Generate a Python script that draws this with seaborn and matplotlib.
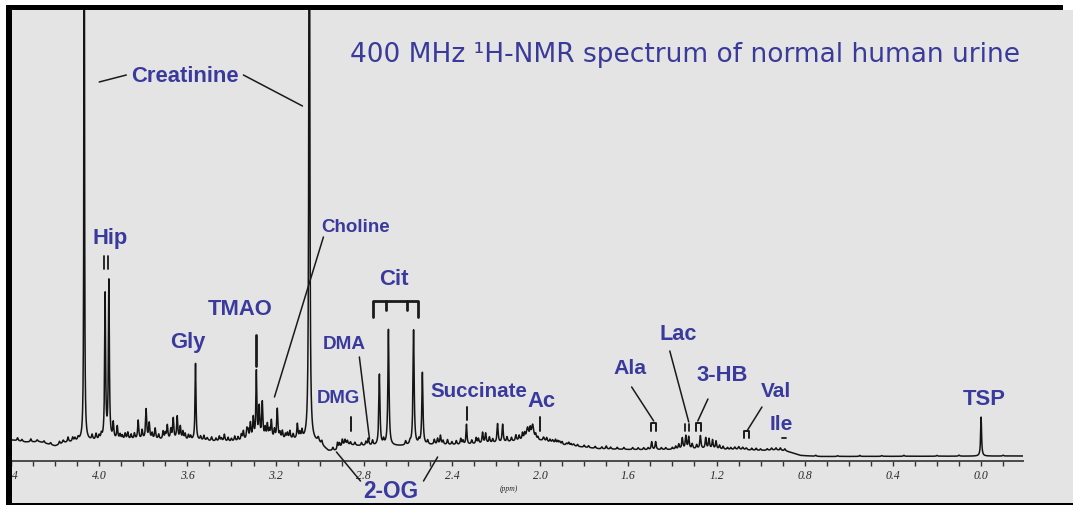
import numpy as np
import pandas as pd
import matplotlib
matplotlib.use("Agg")
import matplotlib.pyplot as plt
from matplotlib.patches import Rectangle
from matplotlib.ticker import FixedLocator, MultipleLocator
import seaborn as sns

# ---------------------------------------------------------------------------
# Spectrum data (chemical shift in ppm, intensity in arbitrary units)
# ---------------------------------------------------------------------------
baseline_ppm = [4.395, 4.336, 4.268, 4.200, 4.154, 4.086, 3.995, 3.859, 3.723,
                3.541, 3.405, 3.269, 3.133, 3.065, 3.006, 2.960, 2.924, 2.883,
                2.815, 2.633, 2.497, 2.361, 2.179, 2.089, 1.998, 1.907, 1.725,
                1.498, 1.271, 1.090, 0.999, 0.931, 0.885, 0.817, 0.726, -0.195]
baseline_int = [20.5, 18.5, 18.5, 14.5, 17.5, 19.5, 19.5, 20.5, 20.5,
                19.5, 18.5, 20.5, 20.5, 19.5, 17.5, 9.5, 9.5, 15.5,
                14.5, 14.5, 15.5, 15.5, 17.5, 19.5, 19.5, 15.5, 11.5,
                10.5, 11.5, 10.5, 10.0, 10.5, 9.5, 5.0, 4.0, 4.5]

# Resolved resonances: centre (ppm), height above baseline (a.u.), half width (ppm)
peak_ppm = [4.281, 4.163, 4.141, 4.095, 4.068, 4.032, 4.014,
            3.973, 3.956, 3.936, 3.918, 3.882, 3.823, 3.787, 3.773, 3.746,
            3.691, 3.664, 3.646, 3.632, 3.610, 3.563, 3.510, 3.432, 3.346,
            3.314, 3.301, 3.287, 3.274, 3.260, 3.237, 3.219, 3.192, 3.169,
            3.146, 3.101, 3.047, 3.006, 2.919, 2.897, 2.874, 2.860, 2.779,
            2.729, 2.688, 2.574, 2.534, 2.465, 2.452, 2.334, 2.261, 2.247,
            2.193, 2.170, 2.057, 2.034, 1.984, 1.943, 1.911, 1.880, 1.848,
            1.494, 1.476, 1.371, 1.355, 1.339, 1.326, 1.273, 1.249, 1.234,
            1.218, 1.202, 1.186, 1.117, 1.099, 1.081, 1.065, 0.000]
peak_int = [2, 3, 5, 3, 750, 5, 6,
            145, 158, 16, 13, 6, 19, 30, 16, 11,
            14, 21, 23, 13, 6, 77, 3, 7, 9,
            16, 21, 67, 31, 36, 14, 18, 30, 8,
            6, 15, 800, 4, 7, 7, 4, 3, 7,
            71, 116, 115, 72, 6, 9, 20, 11, 10,
            19, 18, 12, 15, 4, 3, 3, 2, 2,
            8, 8, 5, 11, 13, 12, 13, 11, 10,
            9, 8, 4, 2.5, 3, 2.5, 2, 39]
peak_hw = [0.004, 0.004, 0.003, 0.003, 0.0015, 0.003, 0.003,
           0.0025, 0.0025, 0.003, 0.003, 0.003, 0.003, 0.003, 0.003, 0.003,
           0.003, 0.003, 0.003, 0.003, 0.003, 0.0025, 0.004, 0.003, 0.003,
           0.003, 0.003, 0.0025, 0.003, 0.003, 0.003, 0.003, 0.003, 0.003,
           0.003, 0.003, 0.0022, 0.004, 0.003, 0.003, 0.003, 0.003, 0.003,
           0.003, 0.003, 0.003, 0.003, 0.003, 0.003, 0.0025, 0.003, 0.003,
           0.003, 0.003, 0.006, 0.006, 0.004, 0.004, 0.004, 0.004, 0.004,
           0.003, 0.003, 0.003, 0.003, 0.003, 0.003, 0.003, 0.003, 0.003,
           0.003, 0.003, 0.003, 0.004, 0.004, 0.004, 0.004, 0.0025]

# Minor signals along the baseline: centre (ppm), height (a.u.)
minor_ppm = [4.370, 4.350, 4.310, 4.250, 4.220, 4.180, 4.120, 4.110,
             4.000, 3.990, 3.905, 3.895, 3.870, 3.855, 3.840, 3.805, 3.760,
             3.730, 3.710, 3.700, 3.675, 3.620, 3.595, 3.585,
             3.540, 3.525, 3.490, 3.470, 3.455, 3.445, 3.415, 3.400, 3.385,
             3.370, 3.355, 3.330, 3.325,
             3.247, 3.228, 3.205, 3.180, 3.155, 3.135, 3.120, 3.090, 3.080,
             2.990, 2.940, 2.910, 2.885, 2.840, 2.810, 2.790, 2.760, 2.710,
             2.610, 2.590, 2.550, 2.510,
             2.480, 2.440, 2.420, 2.400, 2.380, 2.360, 2.350, 2.310, 2.290,
             2.280, 2.230, 2.215, 2.150, 2.130, 2.110, 2.095, 2.080, 2.070,
             2.045, 2.020, 2.010,
             1.970, 1.955, 1.930, 1.920, 1.900, 1.870, 1.860, 1.830, 1.800,
             1.780, 1.750, 1.720, 1.700, 1.680, 1.650, 1.620, 1.580, 1.555,
             1.530, 1.510,
             1.450, 1.430, 1.400, 1.385, 1.310, 1.290, 1.170, 1.150, 1.135,
             1.040, 1.020, 1.000, 0.970, 0.950, 0.930, 0.910, 0.890,
             0.750, 0.650, 0.550, 0.450, 0.350, 0.200, 0.100, -0.100]
minor_int = [3, 2, 3, 2, 2, 3, 4, 3,
             4, 5, 5, 4, 7, 5, 6, 9, 6,
             5, 8, 6, 10, 8, 5, 4,
             4, 5, 4, 3, 5, 3, 4, 3, 5,
             4, 6, 10, 8,
             10, 8, 9, 6, 5, 8, 5, 6, 8,
             4, 3, 5, 5, 3, 3, 4, 5, 5,
             4, 3, 4, 4,
             5, 4, 5, 3, 4, 6, 4, 4, 6,
             5, 6, 4, 5, 4, 6, 5, 7, 6,
             9, 5, 3,
             4, 3, 4, 3, 3, 3, 2, 2, 2,
             2, 2, 2, 3, 2, 2, 2, 2, 2,
             2, 2,
             2, 2, 2, 3, 5, 4, 3, 2, 2,
             2, 2, 1.5, 1.5, 2, 2, 2.5, 2,
             1, 0.8, 1, 0.8, 1, 0.8, 1, 0.8]
minor_hw = 0.003

# Axis ticks
major_ticks = [4.4, 4.0, 3.6, 3.2, 2.8, 2.4, 2.0, 1.6, 1.2, 0.8, 0.4, 0.0]
major_labels = ["4.4", "4.0", "3.6", "3.2", "2.8", "2.4", "2.0", "1.6",
                "1.2", "0.8", "0.4", "0.0"]

title = "400 MHz \u00b9H-NMR spectrum of normal human urine"

# ---------------------------------------------------------------------------
# Build the spectrum trace (Lorentzian lines on a slowly varying baseline)
# ---------------------------------------------------------------------------
shift = np.union1d(np.linspace(-0.19, 4.40, 16000), peak_ppm)
bp = np.array(baseline_ppm)[::-1]
bi = np.array(baseline_int)[::-1]
intensity = np.interp(shift, bp, bi)
for c, a, w in zip(peak_ppm, peak_int, peak_hw):
    intensity += a * w ** 2 / ((shift - c) ** 2 + w ** 2)
for c, a in zip(minor_ppm, minor_int):
    intensity += a * minor_hw ** 2 / ((shift - c) ** 2 + minor_hw ** 2)
spectrum = pd.DataFrame({"ppm": shift, "intensity": intensity})

# ---------------------------------------------------------------------------
# Figure
# ---------------------------------------------------------------------------
sns.set_theme(style="white")
plt.rcParams["font.family"] = ["Liberation Sans", "DejaVu Sans"]

W, H = 1073, 506
BG = "#e4e4e4"
BLUE = "#3a3a9e"
INK = "#1a1a1a"
fig = plt.figure(figsize=(W / 100, H / 100), dpi=100, facecolor=BG)


def fig_box(x0, y0, x1, y1):
    """Pixel box (from top-left) to figure-fraction rectangle args."""
    return (x0 / W, 1 - y1 / H), (x1 - x0) / W, (y1 - y0) / H


AX_L, AX_R, AX_T, AX_B = 11, 1023, 11, 461.5
ax = fig.add_axes([AX_L / W, 1 - AX_B / H, (AX_R - AX_L) / W, (AX_B - AX_T) / H])
ax.set_facecolor("none")

sns.lineplot(data=spectrum, x="ppm", y="intensity", ax=ax, color="#141414",
             linewidth=1.1, estimator=None, sort=True)

ax.set_xlim(4.40, -0.19)
ax.set_ylim(0, AX_B - AX_T)
ax.set_xlabel("")
ax.set_ylabel("")
for side in ("left", "right", "top"):
    ax.spines[side].set_visible(False)
ax.spines["bottom"].set_color("#4a4a4a")
ax.spines["bottom"].set_linewidth(1.4)
ax.set_yticks([])
ax.xaxis.set_major_locator(FixedLocator(major_ticks))
ax.set_xticklabels(major_labels)
ax.xaxis.set_minor_locator(MultipleLocator(0.1))
ax.tick_params(axis="x", which="both", direction="out", length=3.5, width=1.0,
               color="#333333", bottom=True)
ax.tick_params(axis="x", which="major", pad=2.5, labelsize=8.5, labelcolor="#2a2a2a")
for t in ax.get_xticklabels():
    t.set_fontfamily("Liberation Serif")
    t.set_fontstyle("italic")

ax.text(2.143, -27.5, "(ppm)", ha="center", va="center", fontsize=5.5,
        family="Liberation Serif", style="italic", color="#2a2a2a", clip_on=False)

# ---------------------------------------------------------------------------
# Metabolite labels and leader lines
# ---------------------------------------------------------------------------
labels = [
    ("Creatinine", 3.610, 384.5, 15.8),
    ("Hip", 3.950, 222.5, 15.8),
    ("Gly", 3.600, 118.5, 15.8),
    ("TMAO", 3.360, 151.5, 15.8),
    ("Choline", 2.838, 233.5, 13.5),
    ("Cit", 2.665, 181.5, 16.0),
    ("DMA", 2.888, 116.5, 13.6),
    ("DMG", 2.915, 62.5, 13.3),
    ("Succinate", 2.279, 69.5, 14.8),
    ("Ac", 1.993, 59.5, 15.8),
    ("Ala", 1.594, 92.5, 15.3),
    ("Lac", 1.376, 126.5, 15.6),
    ("3-HB", 1.176, 85.5, 15.8),
    ("Val", 0.931, 69.5, 15.0),
    ("Ile", 0.904, 36.5, 15.0),
    ("TSP", -0.014, 61.5, 15.8),
    ("2-OG", 2.679, -30.5, 16.3),
]
for name, lx, ly, size in labels:
    ax.text(lx, ly, name, ha="center", va="center", fontsize=size,
            fontweight="bold", color=BLUE, clip_on=False, zorder=5)

leaders = [
    ((4.000, 378.5), (3.877, 385.5)),
    ((3.346, 385.5), (3.078, 354.5)),
    ((2.983, 223.5), (3.205, 63.5)),
    ((2.820, 103.5), (2.774, 21.5)),
    ((1.585, 73.5), (1.485, 39.5)),
    ((1.412, 109.5), (1.326, 38.5)),
    ((1.239, 61.5), (1.285, 39.5)),
    ((0.994, 53.5), (1.062, 29.5)),
    ((2.924, 8.5), (2.815, -20.5)),
    ((2.465, 3.5), (2.529, -20.5)),
]
for (x0, y0), (x1, y1) in leaders:
    ax.plot([x0, x1], [y0, y1], color=INK, lw=1.1, clip_on=False, zorder=4)

# short vertical markers above resonances
markers = [
    (3.977, 191.5, 204.5, 1.3), (3.959, 191.5, 204.5, 1.3),   # Hip
    (3.287, 94.5, 125.5, 2.0),                               # TMAO
    (2.860, 29.5, 43.5, 1.4),                                # DMG
    (2.334, 40.5, 53.5, 1.4),                                # Succinate
    (2.002, 29.5, 43.5, 1.4),                                # Ac
    (1.344, 29.5, 36.5, 1.3), (1.326, 29.5, 36.5, 1.3),       # Lac
]
for mx, y0, y1, lw in markers:
    ax.plot([mx, mx], [y0, y1], color=INK, lw=lw, clip_on=False, zorder=4)

# bracket-shaped markers over multiplets
brackets = [
    (1.498, 1.476, 29.5, 37.5),   # Ala
    (1.294, 1.271, 29.5, 37.5),   # 3-HB
    (1.076, 1.053, 22.5, 29.5),   # Val
]
for bx0, bx1, y0, y1 in brackets:
    ax.plot([bx0, bx0, bx1, bx1], [y0, y1, y1, y0], color=INK, lw=1.4,
            clip_on=False, zorder=4)
ax.plot([0.903, 0.885], [22.5, 22.5], color=INK, lw=1.3, clip_on=False)  # Ile

# citrate AB quartet bracket
ax.plot([2.756, 2.756, 2.552, 2.552], [143.5, 159.5, 159.5, 143.5],
        color=INK, lw=2.0, clip_on=False, zorder=4)
for cx in (2.701, 2.606):
    ax.plot([cx, cx], [150.5, 159.5], color=INK, lw=2.0, clip_on=False, zorder=4)

# ---------------------------------------------------------------------------
# Title and frame
# ---------------------------------------------------------------------------
fig.text(685 / W, 1 - 55 / H, title, ha="center", va="center", fontsize=19,
         family="DejaVu Sans", color="#3a3a9a")

for (x0, y0, x1, y1), col in [
    ((0, 0, 6, H), "white"),
    ((0, 0, W, 6), "white"),
    ((1063, 0, W, 11), "white"),
    ((6, 6, 12, H), "black"),
    ((6, 6, 1063, 11), "black"),
    ((6, 503.5, W, H), "black"),
]:
    xy, w, h = fig_box(x0, y0, x1, y1)
    fig.patches.append(Rectangle(xy, w, h, transform=fig.transFigure,
                                 facecolor=col, edgecolor="none", zorder=10))

fig.savefig("out.png", dpi=100, facecolor=BG)
